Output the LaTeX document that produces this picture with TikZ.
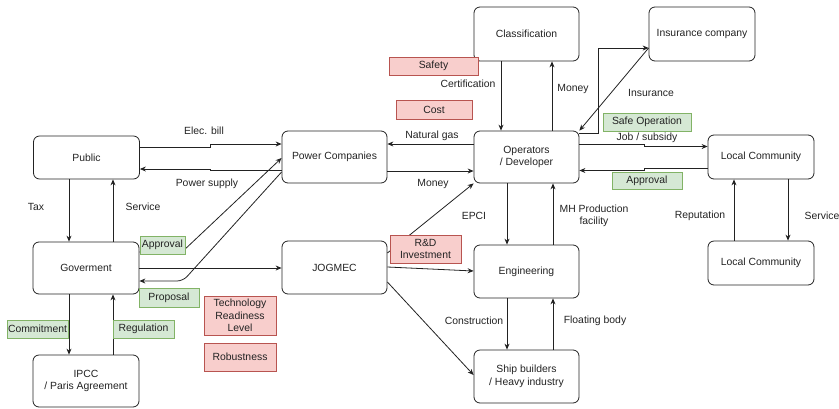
\documentclass[tikz,border=0pt]{standalone}
\usepackage{fontspec}
\setmainfont{Liberation Sans}
\usetikzlibrary{arrows.meta}
\definecolor{redfill}{HTML}{F8CECC}
\definecolor{redline}{HTML}{B85450}
\definecolor{greenfill}{HTML}{D5E8D4}
\definecolor{greenline}{HTML}{82B366}
\definecolor{ink}{HTML}{222222}
\begin{document}
\begin{tikzpicture}[x=1pt,y=-1pt,
  every node/.style={font=\fontsize{10.4}{12.5}\selectfont, text=ink},
  box/.style={draw=ink, line width=0.8pt, rounded corners=6pt, align=center, inner sep=0pt},
  redlab/.style={draw=redline, fill=redfill, line width=0.8pt, align=center, inner sep=0pt},
  greenlab/.style={draw=greenline, fill=greenfill, line width=0.8pt, align=center, inner sep=0pt},
  lab/.style={align=center, inner sep=1pt},
  flow/.style={draw=ink, line width=0.8pt, -{Stealth[length=6pt,width=5pt]}}]
\useasboundingbox (0,0) rectangle (839,408);
% main boxes
\node[box, minimum width=106pt, minimum height=43pt] (pub) at (86.5,157.5) {Public};
\node[box, minimum width=106pt, minimum height=52pt] (gov) at (86,268) {Goverment};
\node[box, minimum width=106pt, minimum height=52pt] (ipcc) at (86,381) {IPCC\\/ Paris Agreement};
\node[box, minimum width=105pt, minimum height=52pt] (pc) at (334.5,157) {Power Companies};
\node[box, minimum width=105pt, minimum height=53pt] (jog) at (334.5,267.5) {JOGMEC};
\node[box, minimum width=105pt, minimum height=54pt] (cls) at (526.5,34) {Classification};
\node[box, minimum width=105pt, minimum height=52pt] (ops) at (526.5,157) {Operators\\/ Developer};
\node[box, minimum width=105pt, minimum height=53pt] (eng) at (526.5,271.5) {Engineering};
\node[box, minimum width=105pt, minimum height=53pt] (ship) at (526.5,376.5) {Ship builders\\/ Heavy industry};
\node[box, minimum width=106pt, minimum height=54pt] (ins) at (702,34) {Insurance company};
\node[box, minimum width=106pt, minimum height=44pt] (lc1) at (761,157) {Local Community};
\node[box, minimum width=106pt, minimum height=44pt] (lc2) at (761,263) {Local Community};
% connectors
\draw[flow] (pub.east |- 0,147) -- (210,147) -- (210,144) -- (pc.west |- 0,144);
\draw[flow] (pc.west |- 0,170) -- (210,170) -- (210,169) -- (pub.east |- 0,169);
\draw[flow] (pub.south -| 69,0) -- (gov.north -| 69,0);
\draw[flow] (gov.north -| 113,0) -- (pub.south -| 113,0);
\draw[flow, rounded corners=6pt] (gov.east |- 0,252) -- (182,252) -- (pc.west |- 0,158);
\draw[flow, rounded corners=6pt] (pc.west |- 0,172) -- (183,281) -- (gov.east |- 0,281);
\draw[flow] (gov.east |- 0,268) -- (jog.west |- 0,268);
\draw[flow] (ops.west |- 0,144) -- (pc.east |- 0,144);
\draw[flow] (pc.east |- 0,171) -- (ops.west |- 0,171);
\draw[flow] (cls.south -| 501,0) -- (ops.north -| 501,0);
\draw[flow] (ops.north -| 552,0) -- (cls.south -| 552,0);
\draw[flow] (ops.east |- 0,133) -- (598,133) -- (598,48) -- (ins.west |- 0,48);
\draw[flow] (ins.west |- 0,48) -- (ops.north east);
\draw[flow] (ops.east |- 0,144.5) -- (644,144.5) -- (644,146.5) -- (lc1.west |- 0,146.5);
\draw[flow] (lc1.west |- 0,168.5) -- (644,168.5) -- (644,170.5) -- (ops.east |- 0,170.5);
\draw[flow] (lc2.north -| 734,0) -- (lc1.south -| 734,0);
\draw[flow] (lc1.south -| 788,0) -- (lc2.north -| 788,0);
\draw[flow] (ops.south -| 507,0) -- (eng.north -| 507,0);
\draw[flow] (eng.north -| 553,0) -- (ops.south -| 553,0);
\draw[flow] (jog.east |- 0,253) -- (ops.south west);
\draw[flow] (jog.east |- 0,267) -- (eng.west |- 0,271);
\draw[flow] (jog.east |- 0,282) -- (ship.west |- 0,375);
\draw[flow] (eng.south -| 507,0) -- (ship.north -| 507,0);
\draw[flow] (ship.north -| 553,0) -- (eng.south -| 553,0);
\draw[flow] (gov.south -| 69,0) -- (ipcc.north -| 69,0);
\draw[flow] (ipcc.north -| 113,0) -- (gov.south -| 113,0);
% text labels
\node[lab] (l1) at (204,131) {Elec. bill};
\node[lab] (l2) at (207,184) {Power supply};
\node[lab] (l3) at (36,207) {Tax};
\node[lab] (l4) at (143,207) {Service};
\node[lab] (l5) at (432,136) {Natural gas};
\node[lab] (l6) at (433,184) {Money};
\node[lab] (l7) at (468,84) {Certification};
\node[lab] (l8) at (573,89) {Money};
\node[lab] (l9) at (651,93) {Insurance};
\node[lab] (l10) at (647,137.5) {Job / subsidy};
\node[lab] (l11) at (700,216) {Reputation};
\node[lab] (l12) at (822,216) {Service};
\node[lab] (l13) at (474,216) {EPCI};
\node[lab] (l14) at (594,216) {MH Production\\facility};
\node[lab] (l15) at (474,321) {Construction};
\node[lab] (l16) at (595,321) {Floating body};
% coloured labels
\node[redlab, minimum width=89pt, minimum height=18pt] (safety) at (433.5,66) {Safety};
\node[redlab, minimum width=76pt, minimum height=19pt] (cost) at (434,109.5) {Cost};
\node[redlab, minimum width=71pt, minimum height=28pt] (rd) at (425.5,249) {R\&D\\Investment};
\node[redlab, minimum width=72pt, minimum height=39pt] (trl) at (240,315.5) {Technology\\Readiness\\Level};
\node[redlab, minimum width=72pt, minimum height=28pt] (rob) at (240,357) {Robustness};
\node[greenlab, minimum width=45pt, minimum height=18pt] (appr1) at (162.5,245) {Approval};
\node[greenlab, minimum width=60pt, minimum height=19pt] (prop) at (169,297.5) {Proposal};
\node[greenlab, minimum width=61pt, minimum height=18pt] (commit) at (37.5,329) {Commitment};
\node[greenlab, minimum width=61pt, minimum height=18pt] (regul) at (143.5,329) {Regulation};
\node[greenlab, minimum width=88pt, minimum height=18pt] (safeop) at (647,122) {Safe Operation};
\node[greenlab, minimum width=70pt, minimum height=17pt] (appr2) at (647,180.5) {Approval};
\end{tikzpicture}
\end{document}
